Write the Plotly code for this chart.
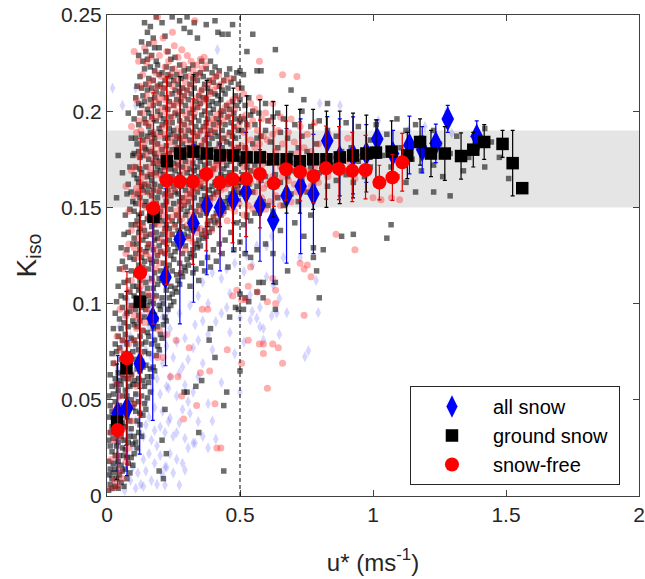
import plotly.graph_objects as go

# ---------------- binned means ----------------
allsnow_x = [0.04, 0.075, 0.123, 0.172, 0.22, 0.274, 0.325, 0.375, 0.425, 0.475, 0.523, 0.575, 0.625,
             0.675, 0.728, 0.776, 0.828, 0.875, 0.925, 0.975, 1.016, 1.075, 1.137, 1.185, 1.236, 1.281, 1.39]
allsnow_y = [0.043, 0.0456, 0.0688, 0.0923, 0.1137, 0.1335, 0.1417, 0.151, 0.150, 0.154, 0.158, 0.151, 0.1434,
             0.156, 0.161, 0.157, 0.1847, 0.176, 0.177, 0.178, 0.1855, 0.178, 0.1824, 0.180, 0.1833, 0.196, 0.187]
allsnow_err = [0.03, 0.035, 0.047, 0.053, 0.046, 0.044, 0.041, 0.036, 0.033, 0.027, 0.031, 0.029, 0.033,
               0.035, 0.035, 0.031, 0.0125, 0.02, 0.02, 0.015, 0.01, 0.012, 0.015, 0.012, 0.01, 0.007, 0.008]

ground_x = [0.038, 0.073, 0.123, 0.175, 0.225, 0.275, 0.325, 0.375, 0.425, 0.475, 0.525, 0.575, 0.625, 0.675,
            0.725, 0.775, 0.825, 0.875, 0.925, 0.975, 1.011, 1.07, 1.129, 1.177, 1.218, 1.27, 1.331, 1.377,
            1.418, 1.487, 1.525, 1.561]
ground_y = [0.0386, 0.0664, 0.101, 0.145, 0.174, 0.178, 0.179, 0.178, 0.177, 0.177, 0.176, 0.176, 0.175, 0.175,
            0.174, 0.175, 0.175, 0.176, 0.177, 0.178, 0.1785, 0.179, 0.177, 0.184, 0.178, 0.178, 0.1767, 0.180,
            0.184, 0.183, 0.173, 0.160]
ground_err = [0.03, 0.04, 0.045, 0.05, 0.044, 0.04, 0.04, 0.038, 0.037, 0.035, 0.032, 0.03, 0.03, 0.028,
              0.027, 0.026, 0.025, 0.024, 0.022, 0.02, 0.017, 0.016, 0.012, 0.012, 0.012, 0.014, 0.012, 0.009,
              0.009, 0.007, 0.017, 0.0]

free_x = [0.04, 0.075, 0.125, 0.174, 0.224, 0.274, 0.323, 0.373, 0.424, 0.472, 0.523, 0.575, 0.627, 0.673,
          0.726, 0.776, 0.823, 0.872, 0.922, 0.972, 1.024, 1.073, 1.11]
free_y = [0.0343, 0.0716, 0.116, 0.1495, 0.164, 0.1634, 0.1634, 0.1674, 0.1629, 0.1646, 0.1648, 0.1674, 0.1625,
          0.1698, 0.1684, 0.1663, 0.1703, 0.170, 0.169, 0.1694, 0.1629, 0.1656, 0.1735]
free_err_plus = [0.025, 0.045, 0.07, 0.06, 0.054, 0.048, 0.043, 0.04, 0.037, 0.033, 0.03, 0.028, 0.03, 0.025,
                 0.026, 0.027, 0.022, 0.022, 0.02, 0.018, 0.009, 0.012, 0.015]
free_err_minus = [0.03, 0.055, 0.075, 0.06, 0.054, 0.048, 0.043, 0.04, 0.037, 0.033, 0.03, 0.028, 0.012, 0.016,
                  0.015, 0.014, 0.016, 0.016, 0.016, 0.015, 0.009, 0.012, 0.015]

# ---------------- individual samples (estimated from the figure) ----------------
# columns: u* value -> list of K_iso values
ground_raw = {
    0.006: [0.003, 0.011, 0.018, 0.029, 0.041, 0.052],
    0.012: [0.006, 0.014, 0.026, 0.033, 0.047, 0.063],
    0.019: [0.004, 0.009, 0.023, 0.036, 0.044, 0.057, 0.074],
    0.024: [0.012, 0.017, 0.03, 0.041, 0.053, 0.069, 0.087],
    0.031: [0.005, 0.014, 0.021, 0.038, 0.049, 0.061, 0.079, 0.095],
    0.036: [0.009, 0.026, 0.033, 0.045, 0.058, 0.075, 0.101, 0.155],
    0.042: [0.004, 0.018, 0.028, 0.04, 0.055, 0.064, 0.083, 0.109, 0.177],
    0.047: [0.011, 0.021, 0.036, 0.047, 0.06, 0.077, 0.092, 0.118],
    0.053: [0.007, 0.016, 0.031, 0.042, 0.058, 0.071, 0.087, 0.104, 0.129],
    0.058: [0.013, 0.025, 0.038, 0.052, 0.063, 0.081, 0.098, 0.122, 0.168],
    0.064: [0.005, 0.021, 0.029, 0.046, 0.061, 0.074, 0.09, 0.111, 0.136],
    0.069: [0.014, 0.024, 0.036, 0.055, 0.068, 0.084, 0.103, 0.119, 0.146],
    0.075: [0.009, 0.02, 0.041, 0.052, 0.066, 0.079, 0.095, 0.128, 0.157],
    0.080: [0.017, 0.028, 0.046, 0.061, 0.074, 0.088, 0.112, 0.137, 0.162, 0.199],
    0.086: [0.012, 0.031, 0.039, 0.057, 0.069, 0.096, 0.106, 0.124, 0.149, 0.171],
    0.091: [0.02, 0.035, 0.05, 0.063, 0.082, 0.099, 0.117, 0.141, 0.158, 0.186],
    0.097: [0.016, 0.027, 0.046, 0.058, 0.075, 0.091, 0.109, 0.131, 0.153, 0.177],
    0.102: [0.022, 0.031, 0.048, 0.060, 0.081, 0.089, 0.104, 0.123, 0.134, 0.148, 0.167, 0.178, 0.196],
    0.108: [0.028, 0.044, 0.053, 0.071, 0.079, 0.097, 0.115, 0.126, 0.141, 0.152, 0.171, 0.186, 0.207],
    0.113: [0.025, 0.039, 0.058, 0.066, 0.088, 0.101, 0.109, 0.131, 0.143, 0.157, 0.165, 0.183, 0.213],
    0.119: [0.033, 0.049, 0.061, 0.076, 0.094, 0.107, 0.12, 0.137, 0.146, 0.163, 0.179, 0.193, 0.204, 0.229],
    0.124: [0.037, 0.043, 0.065, 0.083, 0.091, 0.112, 0.128, 0.139, 0.155, 0.17, 0.176, 0.199, 0.218],
    0.130: [0.031, 0.052, 0.07, 0.079, 0.098, 0.116, 0.124, 0.147, 0.161, 0.168, 0.188, 0.203, 0.212, 0.236],
    0.135: [0.042, 0.06, 0.067, 0.086, 0.105, 0.119, 0.133, 0.142, 0.159, 0.177, 0.185, 0.208, 0.226],
    0.141: [0.048, 0.057, 0.075, 0.093, 0.102, 0.122, 0.138, 0.151, 0.162, 0.181, 0.196, 0.205, 0.222, 0.246],
    0.146: [0.045, 0.068, 0.08, 0.097, 0.111, 0.127, 0.135, 0.153, 0.171, 0.18, 0.194, 0.214, 0.231],
    0.152: [0.051, 0.062, 0.085, 0.099, 0.108, 0.129, 0.144, 0.158, 0.166, 0.187, 0.201, 0.211, 0.227, 0.241],
    0.157: [0.059, 0.074, 0.083, 0.104, 0.118, 0.131, 0.15, 0.161, 0.175, 0.192, 0.199, 0.217, 0.235],
    0.163: [0.054, 0.066, 0.09, 0.101, 0.123, 0.136, 0.146, 0.167, 0.179, 0.189, 0.206, 0.223, 0.244],
    0.168: [0.062, 0.079, 0.095, 0.113, 0.121, 0.14, 0.156, 0.164, 0.184, 0.197, 0.212, 0.229],
    0.174: [0.067, 0.087, 0.1, 0.108, 0.128, 0.147, 0.159, 0.173, 0.188, 0.203, 0.216, 0.238],
    0.179: [0.065, 0.081, 0.094, 0.116, 0.133, 0.141, 0.162, 0.178, 0.186, 0.207, 0.221, 0.233],
    0.185: [0.073, 0.092, 0.104, 0.122, 0.137, 0.152, 0.168, 0.176, 0.195, 0.21, 0.226, 0.249],
    0.190: [0.078, 0.088, 0.11, 0.125, 0.134, 0.155, 0.171, 0.183, 0.2, 0.213, 0.224],
    0.196: [0.013, 0.076, 0.099, 0.113, 0.13, 0.145, 0.158, 0.174, 0.191, 0.204, 0.219, 0.233],
    0.201: [0.084, 0.097, 0.117, 0.127, 0.148, 0.161, 0.169, 0.189, 0.198, 0.214],
    0.207: [0.029, 0.082, 0.103, 0.112, 0.136, 0.143, 0.165, 0.18, 0.193, 0.209, 0.22, 0.246],
    0.212: [0.009, 0.089, 0.1, 0.121, 0.132, 0.151, 0.167, 0.177, 0.196, 0.212],
    0.218: [0.045, 0.093, 0.111, 0.126, 0.139, 0.157, 0.171, 0.186, 0.202, 0.216, 0.239],
    0.223: [0.022, 0.091, 0.107, 0.118, 0.141, 0.153, 0.162, 0.182, 0.194, 0.207, 0.223],
    0.229: [0.097, 0.114, 0.128, 0.145, 0.159, 0.175, 0.186, 0.201, 0.219, 0.231],
    0.234: [0.103, 0.12, 0.133, 0.139, 0.163, 0.178, 0.191, 0.205, 0.214],
    0.240: [0.099, 0.109, 0.125, 0.149, 0.156, 0.17, 0.188, 0.197, 0.218, 0.227],
    0.245: [0.105, 0.117, 0.136, 0.143, 0.166, 0.18, 0.194, 0.209, 0.222, 0.249],
    0.251: [0.101, 0.123, 0.131, 0.152, 0.161, 0.173, 0.19, 0.203, 0.216],
    0.256: [0.108, 0.127, 0.141, 0.158, 0.169, 0.184, 0.199, 0.211, 0.228],
    0.262: [0.106, 0.115, 0.134, 0.146, 0.163, 0.179, 0.187, 0.206, 0.219],
    0.267: [0.112, 0.129, 0.138, 0.157, 0.172, 0.181, 0.198, 0.214],
    0.273: [0.11, 0.121, 0.143, 0.153, 0.167, 0.186, 0.195, 0.21, 0.224, 0.247],
    0.278: [0.116, 0.132, 0.149, 0.161, 0.176, 0.19, 0.205, 0.217],
    0.284: [0.114, 0.126, 0.14, 0.155, 0.171, 0.183, 0.2, 0.212],
    0.290: [0.054, 0.119, 0.136, 0.151, 0.164, 0.178, 0.193, 0.208, 0.221, 0.243],
    0.295: [0.117, 0.13, 0.146, 0.159, 0.174, 0.187, 0.203, 0.218],
    0.301: [0.054, 0.123, 0.139, 0.148, 0.168, 0.181, 0.196, 0.211, 0.249],
    0.306: [0.12, 0.135, 0.153, 0.162, 0.177, 0.19, 0.206, 0.222],
    0.312: [0.109, 0.126, 0.143, 0.157, 0.17, 0.185, 0.199, 0.214, 0.241],
    0.317: [0.124, 0.138, 0.15, 0.166, 0.18, 0.194, 0.209],
    0.323: [0.116, 0.128, 0.141, 0.16, 0.173, 0.189, 0.201, 0.217, 0.224],
    0.328: [0.125, 0.145, 0.155, 0.169, 0.183, 0.197, 0.212, 0.246],
    0.334: [0.057, 0.118, 0.131, 0.148, 0.163, 0.178, 0.192, 0.205, 0.219],
    0.340: [0.129, 0.139, 0.158, 0.171, 0.187, 0.202, 0.216, 0.238],
    0.345: [0.033, 0.112, 0.133, 0.151, 0.166, 0.176, 0.195, 0.208],
    0.351: [0.13, 0.146, 0.161, 0.174, 0.19, 0.204, 0.22],
    0.356: [0.06, 0.121, 0.136, 0.154, 0.168, 0.182, 0.198, 0.211, 0.226],
    0.362: [0.134, 0.149, 0.16, 0.179, 0.192, 0.207, 0.218],
    0.367: [0.117, 0.138, 0.156, 0.172, 0.185, 0.2, 0.214],
    0.373: [0.135, 0.147, 0.165, 0.178, 0.194, 0.206, 0.222, 0.245],
    0.378: [0.124, 0.141, 0.153, 0.169, 0.188, 0.196, 0.212],
    0.384: [0.081, 0.137, 0.159, 0.173, 0.183, 0.203, 0.216],
    0.389: [0.087, 0.119, 0.143, 0.155, 0.167, 0.19, 0.199, 0.21, 0.226],
    0.395: [0.139, 0.161, 0.176, 0.186, 0.205, 0.22],
    0.400: [0.128, 0.145, 0.157, 0.17, 0.193, 0.201, 0.215],
    0.406: [0.072, 0.142, 0.163, 0.18, 0.189, 0.209, 0.223, 0.247],
    0.411: [0.122, 0.147, 0.158, 0.174, 0.196, 0.204, 0.218],
    0.417: [0.143, 0.165, 0.178, 0.187, 0.208, 0.241],
    0.422: [0.131, 0.149, 0.16, 0.183, 0.194, 0.213, 0.221],
    0.428: [0.146, 0.167, 0.176, 0.198, 0.206],
    0.433: [0.126, 0.151, 0.163, 0.181, 0.19, 0.211, 0.24],
    0.439: [0.047, 0.013, 0.148, 0.17, 0.186, 0.2, 0.216],
    0.444: [0.133, 0.153, 0.166, 0.179, 0.193, 0.209],
    0.450: [0.054, 0.15, 0.172, 0.184, 0.203, 0.219],
    0.455: [0.119, 0.155, 0.162, 0.177, 0.197, 0.212, 0.24],
    0.461: [0.093, 0.152, 0.168, 0.189, 0.201, 0.222],
    0.466: [0.137, 0.157, 0.174, 0.183, 0.194, 0.215],
    0.472: [0.154, 0.165, 0.187, 0.205, 0.245],
    0.477: [0.128, 0.159, 0.178, 0.192, 0.199, 0.217],
    0.483: [0.098, 0.156, 0.17, 0.186, 0.208],
    0.488: [0.142, 0.161, 0.175, 0.196, 0.203, 0.22],
    0.494: [0.097, 0.158, 0.181, 0.19, 0.214],
    0.500: [0.065, 0.105, 0.132, 0.163, 0.173, 0.195, 0.206, 0.221],
    0.507: [0.157, 0.174, 0.19, 0.212],
    0.513: [0.097, 0.141, 0.167, 0.196, 0.219],
    0.519: [0.103, 0.126, 0.159, 0.181, 0.203],
    0.526: [0.146, 0.171, 0.193, 0.231],
    0.533: [0.101, 0.162, 0.178, 0.207],
    0.540: [0.124, 0.143, 0.169, 0.198],
    0.548: [0.158, 0.183, 0.2, 0.24],
    0.556: [0.147, 0.172, 0.193],
    0.564: [0.106, 0.128, 0.161, 0.186, 0.221],
    0.571: [0.111, 0.149, 0.176, 0.199],
    0.579: [0.164, 0.187, 0.221],
    0.587: [0.103, 0.111, 0.153, 0.178],
    0.596: [0.131, 0.166, 0.19, 0.204],
    0.605: [0.151, 0.173, 0.195],
    0.614: [0.162, 0.184],
    0.624: [0.126, 0.148, 0.176, 0.197],
    0.633: [0.097, 0.111, 0.167, 0.232],
    0.642: [0.155, 0.181, 0.199],
    0.652: [0.138, 0.163, 0.189],
    0.663: [0.151, 0.174, 0.196],
    0.679: [0.117, 0.166, 0.186],
    0.692: [0.157, 0.178, 0.211],
    0.706: [0.142, 0.169, 0.193],
    0.719: [0.153, 0.181],
    0.733: [0.164, 0.187, 0.2],
    0.740: [0.135, 0.206],
    0.752: [0.158, 0.179],
    0.766: [0.146, 0.171, 0.192],
    0.776: [0.124, 0.129, 0.162],
    0.788: [0.117, 0.183],
    0.798: [0.103, 0.168, 0.195],
    0.813: [0.128, 0.176],
    0.829: [0.161, 0.19, 0.204],
    0.846: [0.172],
    0.862: [0.164, 0.187],
    0.882: [0.135, 0.179],
    0.899: [0.167, 0.194],
    0.918: [0.181],
    0.926: [0.136, 0.163],
    0.945: [0.174, 0.192],
    0.968: [0.166],
    0.99: [0.185, 0.171],
    1.012: [0.162, 0.193],
    1.035: [0.177],
    1.052: [0.134, 0.188],
    1.068: [0.141, 0.171],
    1.09: [0.196, 0.166],
    1.105: [0.181],
    1.124: [0.163, 0.19],
    1.147: [0.175],
    1.16: [0.158, 0.193],
    1.182: [0.169, 0.186],
    1.205: [0.179],
    1.228: [0.158, 0.172, 0.19],
    1.25: [0.183],
    1.262: [0.166],
    1.29: [0.156, 0.178],
    1.315: [0.187],
    1.34: [0.169],
    1.36: [0.176],
    1.392: [0.181],
    1.42: [0.171, 0.191],
    1.445: [0.184],
    1.475: [0.176],
    1.51: [0.165],
}

free_raw = {
    0.016: [0.004, 0.019, 0.033],
    0.027: [0.008, 0.029, 0.044, 0.069],
    0.038: [0.005, 0.021, 0.047, 0.058, 0.083],
    0.049: [0.013, 0.031, 0.052, 0.076, 0.097],
    0.060: [0.009, 0.035, 0.063, 0.081, 0.118],
    0.071: [0.018, 0.042, 0.074, 0.094, 0.126, 0.161],
    0.082: [0.025, 0.061, 0.079, 0.107, 0.131, 0.148],
    0.092: [0.039, 0.063, 0.098, 0.112, 0.138, 0.169, 0.192],
    0.102: [0.048, 0.081, 0.094, 0.129, 0.156, 0.171, 0.231],
    0.111: [0.057, 0.087, 0.124, 0.141, 0.16, 0.189, 0.206],
    0.119: [0.071, 0.092, 0.117, 0.134, 0.158, 0.177, 0.195, 0.226],
    0.127: [0.074, 0.109, 0.127, 0.152, 0.163, 0.19, 0.213],
    0.134: [0.086, 0.113, 0.14, 0.158, 0.181, 0.199, 0.219],
    0.141: [0.09, 0.118, 0.136, 0.166, 0.184, 0.194, 0.233],
    0.148: [0.097, 0.126, 0.15, 0.162, 0.177, 0.208, 0.225],
    0.155: [0.105, 0.131, 0.145, 0.171, 0.193, 0.214],
    0.162: [0.094, 0.124, 0.157, 0.168, 0.186, 0.203, 0.228],
    0.169: [0.112, 0.136, 0.149, 0.18, 0.196, 0.216],
    0.176: [0.103, 0.129, 0.153, 0.174, 0.189, 0.21, 0.236],
    0.183: [0.118, 0.142, 0.167, 0.183, 0.205, 0.22],
    0.190: [0.072, 0.126, 0.151, 0.159, 0.178, 0.197, 0.213, 0.249],
    0.197: [0.086, 0.121, 0.141, 0.173, 0.187, 0.207, 0.229],
    0.204: [0.133, 0.149, 0.166, 0.181, 0.201, 0.218],
    0.211: [0.072, 0.127, 0.146, 0.176, 0.192, 0.212, 0.238],
    0.218: [0.138, 0.156, 0.17, 0.188, 0.206, 0.223],
    0.225: [0.084, 0.131, 0.153, 0.179, 0.199, 0.216, 0.231],
    0.232: [0.143, 0.161, 0.175, 0.194, 0.209, 0.226],
    0.239: [0.062, 0.136, 0.157, 0.184, 0.203, 0.219],
    0.246: [0.145, 0.165, 0.178, 0.197, 0.213, 0.241],
    0.253: [0.14, 0.16, 0.187, 0.204, 0.222, 0.234],
    0.260: [0.081, 0.148, 0.171, 0.181, 0.2, 0.216],
    0.267: [0.062, 0.146, 0.163, 0.191, 0.209, 0.228],
    0.274: [0.151, 0.174, 0.186, 0.204, 0.22],
    0.281: [0.052, 0.144, 0.167, 0.194, 0.212, 0.232],
    0.288: [0.04, 0.154, 0.177, 0.189, 0.207, 0.224],
    0.295: [0.128, 0.152, 0.17, 0.185, 0.198, 0.215],
    0.302: [0.141, 0.157, 0.18, 0.192, 0.21, 0.229],
    0.309: [0.077, 0.134, 0.155, 0.173, 0.201, 0.218],
    0.316: [0.146, 0.159, 0.183, 0.196, 0.213, 0.226],
    0.323: [0.132, 0.158, 0.176, 0.189, 0.204, 0.221],
    0.330: [0.143, 0.161, 0.186, 0.199, 0.216, 0.247],
    0.337: [0.047, 0.137, 0.16, 0.179, 0.207, 0.224],
    0.344: [0.148, 0.163, 0.188, 0.202, 0.219],
    0.351: [0.064, 0.139, 0.162, 0.182, 0.21, 0.227],
    0.358: [0.097, 0.151, 0.165, 0.19, 0.205, 0.222],
    0.365: [0.136, 0.164, 0.185, 0.212, 0.228],
    0.372: [0.149, 0.167, 0.192, 0.207, 0.224],
    0.379: [0.097, 0.142, 0.166, 0.187, 0.214],
    0.386: [0.065, 0.153, 0.169, 0.194, 0.209],
    0.393: [0.138, 0.168, 0.178, 0.189, 0.216],
    0.400: [0.155, 0.171, 0.196, 0.211],
    0.406: [0.048, 0.145, 0.17, 0.191, 0.218],
    0.413: [0.025, 0.157, 0.173, 0.198, 0.213],
    0.420: [0.141, 0.172, 0.181, 0.193, 0.219],
    0.428: [0.025, 0.159, 0.175, 0.2, 0.214],
    0.436: [0.147, 0.174, 0.185, 0.195],
    0.444: [0.16, 0.177, 0.202, 0.216],
    0.452: [0.076, 0.143, 0.176, 0.197],
    0.459: [0.162, 0.178, 0.188, 0.204],
    0.466: [0.15, 0.177, 0.199, 0.217],
    0.473: [0.104, 0.163, 0.18, 0.206],
    0.480: [0.148, 0.179, 0.191, 0.201],
    0.488: [0.107, 0.161, 0.181, 0.207],
    0.496: [0.152, 0.176, 0.193, 0.212],
    0.506: [0.069, 0.102, 0.158, 0.182, 0.197],
    0.514: [0.146, 0.171, 0.189, 0.209],
    0.522: [0.102, 0.16, 0.18, 0.198],
    0.531: [0.081, 0.109, 0.151, 0.174, 0.192],
    0.540: [0.119, 0.163, 0.185, 0.204],
    0.548: [0.149, 0.169, 0.195],
    0.556: [0.158, 0.181, 0.201],
    0.565: [0.106, 0.152, 0.176, 0.19],
    0.573: [0.079, 0.164, 0.183, 0.207, 0.226],
    0.581: [0.155, 0.172, 0.196],
    0.588: [0.074, 0.079, 0.16, 0.187],
    0.596: [0.149, 0.177, 0.199],
    0.603: [0.056, 0.101, 0.162, 0.185],
    0.612: [0.153, 0.174, 0.195],
    0.623: [0.079, 0.113, 0.166, 0.188, 0.204],
    0.634: [0.1, 0.107, 0.156, 0.179],
    0.644: [0.077, 0.163, 0.19],
    0.652: [0.151, 0.171, 0.197],
    0.660: [0.069, 0.166, 0.183, 0.219],
    0.671: [0.157, 0.176],
    0.682: [0.164, 0.189],
    0.692: [0.153, 0.173, 0.196],
    0.704: [0.162, 0.184],
    0.714: [0.158, 0.178, 0.218],
    0.726: [0.121, 0.167, 0.192],
    0.741: [0.094, 0.118, 0.159, 0.181],
    0.753: [0.12, 0.169, 0.188],
    0.767: [0.114, 0.161, 0.179],
    0.781: [0.171, 0.194],
    0.795: [0.163, 0.183],
    0.810: [0.173],
    0.830: [0.166, 0.188],
    0.861: [0.136, 0.176],
    0.880: [0.168],
    0.905: [0.174, 0.186],
    0.932: [0.128, 0.165],
    0.960: [0.177],
    1.000: [0.178, 0.155],
    1.030: [0.154],
    1.070: [0.155],
    1.100: [0.154],
}

allsnow_raw = {
    0.012: [0.011, 0.033],
    0.021: [0.016, 0.042, 0.212],
    0.028: [0.005, 0.027, 0.058],
    0.039: [0.019, 0.031, 0.066],
    0.047: [0.009, 0.041, 0.052, 0.088],
    0.058: [0.014, 0.029, 0.061, 0.079, 0.203],
    0.066: [0.003, 0.036, 0.047, 0.094],
    0.077: [0.021, 0.055, 0.071, 0.102],
    0.088: [0.008, 0.033, 0.046, 0.083],
    0.097: [0.015, 0.026, 0.064, 0.098],
    0.108: [0.004, 0.039, 0.052, 0.077, 0.212, 0.203],
    0.116: [0.012, 0.024, 0.061, 0.091],
    0.127: [0.006, 0.043, 0.07, 0.083, 0.107],
    0.137: [0.005, 0.019, 0.031, 0.058, 0.094],
    0.146: [0.013, 0.037, 0.049, 0.076, 0.101],
    0.158: [0.022, 0.041, 0.067, 0.088, 0.113],
    0.167: [0.008, 0.029, 0.055, 0.072, 0.097],
    0.179: [0.017, 0.034, 0.046, 0.081, 0.106],
    0.188: [0.006, 0.026, 0.061, 0.089],
    0.200: [0.036, 0.021, 0.053, 0.075, 0.1],
    0.209: [0.011, 0.044, 0.069, 0.093],
    0.218: [0.0057, 0.015, 0.033, 0.084],
    0.224: [0.015, 0.057, 0.078],
    0.231: [0.0387, 0.056, 0.097],
    0.237: [0.022, 0.0405, 0.062, 0.087],
    0.249: [0.012, 0.031, 0.072],
    0.262: [0.019, 0.033, 0.052, 0.08],
    0.272: [0.0057, 0.038, 0.064, 0.095],
    0.284: [0.017, 0.045, 0.067],
    0.293: [0.0135, 0.03, 0.0577, 0.082],
    0.305: [0.025, 0.049, 0.071],
    0.312: [0.043, 0.099],
    0.324: [0.0275, 0.054, 0.077],
    0.331: [0.0275, 0.089],
    0.343: [0.0387, 0.062, 0.081, 0.104],
    0.360: [0.031, 0.069, 0.091, 0.111],
    0.380: [0.025, 0.048, 0.084, 0.1],
    0.396: [0.039, 0.076, 0.116],
    0.409: [0.0296, 0.0906],
    0.415: [0.232],
    0.430: [0.059, 0.095, 0.113],
    0.450: [0.098, 0.118],
    0.462: [0.1053, 0.085],
    0.480: [0.074, 0.121],
    0.500: [0.054, 0.0925, 0.105],
    0.515: [0.1166, 0.08],
    0.525: [0.102, 0.125],
    0.538: [0.0915, 0.1045],
    0.546: [0.096, 0.12],
    0.563: [0.0924, 0.13],
    0.575: [0.088, 0.098],
    0.588: [0.081, 0.087],
    0.600: [0.114, 0.13],
    0.619: [0.0936, 0.135],
    0.625: [0.1097],
    0.638: [0.095],
    0.648: [0.084, 0.1027],
    0.663: [0.124],
    0.676: [0.0953],
    0.726: [0.124],
    0.744: [0.0724],
    0.757: [0.0755],
    0.786: [0.112],
    0.794: [0.0953],
    0.800: [0.204],
    0.876: [0.203],
    1.020: [0.195],
    1.133: [0.19],
    1.195: [0.192],
    1.277: [0.1998],
    1.296: [0.1885],
}


def flatten(cols):
    xs, ys = [], []
    for x, vals in cols.items():
        for v in vals:
            xs.append(x)
            ys.append(v)
    return xs, ys


bx, by = flatten(allsnow_raw)
gx, gy = flatten(ground_raw)
fx, fy = flatten(free_raw)

FONT = "Liberation Sans, Arial, sans-serif"

fig = go.Figure()

# reference band
fig.add_shape(type="rect", xref="x", yref="y", x0=0, x1=2, y0=0.15, y1=0.19,
              fillcolor="#e5e5e5", line_width=0, layer="below")

fig.add_trace(go.Scatter(x=bx, y=by, mode="markers", showlegend=False, hoverinfo="skip",
                         marker=dict(symbol="diamond-tall", size=8, color="rgba(90,90,255,0.25)",
                                     line_width=0)))
fig.add_trace(go.Scatter(x=gx, y=gy, mode="markers", showlegend=False, hoverinfo="skip",
                         marker=dict(symbol="square", size=5.5, color="rgba(20,20,20,0.62)", line_width=0)))
fig.add_trace(go.Scatter(x=fx, y=fy, mode="markers", showlegend=False, hoverinfo="skip",
                         marker=dict(symbol="circle", size=7, color="rgba(255,40,40,0.38)", line_width=0)))

fig.add_trace(go.Scatter(x=allsnow_x, y=allsnow_y, mode="markers", name="all snow",
                         error_y=dict(type="data", array=allsnow_err, color="#0000ff", thickness=1.2, width=2),
                         marker=dict(symbol="diamond-tall", size=18, color="#0000ff", line_width=0)))
fig.add_trace(go.Scatter(x=ground_x, y=ground_y, mode="markers", name="ground snow\u00a0",
                         error_y=dict(type="data", array=ground_err, color="#000000", thickness=1.2, width=2),
                         marker=dict(symbol="square", size=12.5, color="#000000", line_width=0)))
fig.add_trace(go.Scatter(x=free_x, y=free_y, mode="markers", name="snow-free",
                         error_y=dict(type="data", symmetric=False, array=free_err_plus,
                                      arrayminus=free_err_minus, color="#e00000", thickness=1.2, width=2),
                         marker=dict(symbol="circle", size=14, color="#ff0000", line_width=0)))

fig.add_shape(type="line", xref="x", yref="y", x0=0.5, x1=0.5, y0=0, y1=0.25,
              line=dict(color="black", width=1, dash="4px,3px"), layer="above")

axis_common = dict(showgrid=False, zeroline=False, showline=True, linecolor="#404040", linewidth=1,
                   mirror="ticks", ticks="inside", ticklen=6, tickcolor="#404040",
                   ticklabeloverflow="allow",
                   tickfont=dict(family=FONT, size=21, color="#262626"))

fig.update_xaxes(range=[0, 2], tickvals=[0, 0.5, 1, 1.5, 2], ticktext=["0", "0.5", "1", "1.5", "2"],
                 title=dict(text="u* (ms<sup>-1</sup>)", standoff=28,
                            font=dict(family=FONT, size=24, color="#262626")),
                 **axis_common)
fig.update_yaxes(range=[0, 0.25], tickvals=[0, 0.05, 0.1, 0.15, 0.2, 0.25],
                 ticktext=["0", "0.05", "0.1", "0.15", "0.2", "0.25"],
                 title=dict(text="K<sub>iso</sub>", standoff=16,
                            font=dict(family=FONT, size=28, color="#262626")),
                 **axis_common)

fig.update_layout(
    width=645, height=579,
    margin=dict(l=107, r=6, t=15, b=83, autoexpand=False),
    plot_bgcolor="white", paper_bgcolor="white",
    legend=dict(x=0.5695, y=0.2287, xanchor="left", yanchor="top",
                bgcolor="white", bordercolor="#262626", borderwidth=1,
                font=dict(family=FONT, size=20, color="#000000"),
                itemwidth=72, tracegroupgap=0),
)

# remove the default page margin so the 645x579 figure fills the window exactly; hide the mode bar
fig.write_html("out.html",
               config={"displayModeBar": False},
               post_script="document.body.style.margin='0';document.body.style.overflow='hidden';")
